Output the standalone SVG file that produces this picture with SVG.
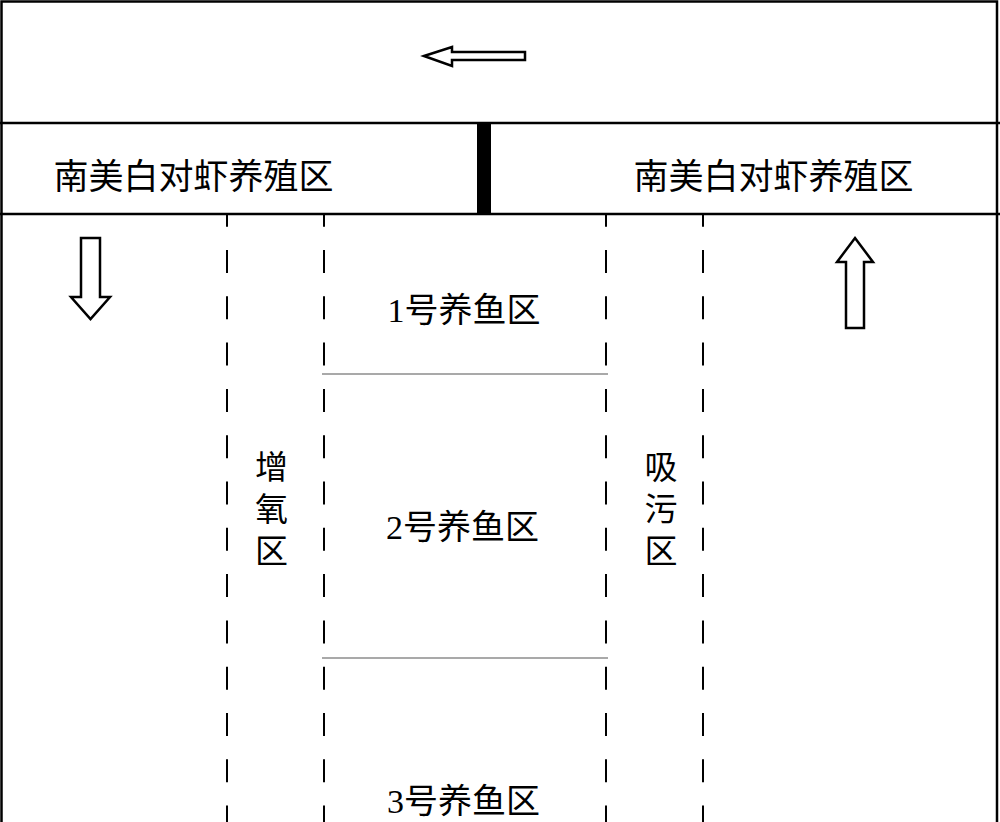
<svg xmlns="http://www.w3.org/2000/svg" width="1000" height="822" viewBox="0 0 1000 822">
<style>
.ln{stroke:#000;stroke-width:2.5;fill:none}
.dash{stroke:#000;stroke-width:2;fill:none;stroke-dasharray:23 23.3;stroke-dashoffset:11.3}
.sep{stroke:#555;stroke-width:1.2}
.arr{fill:#fff;stroke:#000;stroke-width:2.5;stroke-linejoin:miter}
.t{font-family:"Liberation Serif","Noto Sans CJK SC",serif;fill:#000;text-anchor:middle;dominant-baseline:central}
.big{font-size:35px}
.mid{font-size:34px}
.vert{font-size:33px}
</style>
<rect width="1000" height="822" fill="#fff"/>
<g id="frame">
<rect class="ln" x="1.5" y="1.5" width="995.5" height="830"/>
<line class="ln" x1="0" y1="123" x2="1000" y2="123"/>
<line class="ln" x1="0" y1="214" x2="1000" y2="214"/>
<rect x="477" y="123" width="14" height="91" fill="#000"/>
</g>
<g id="connectors">
<line class="dash" x1="227" y1="215" x2="227" y2="822"/>
<line class="dash" x1="324" y1="215" x2="324" y2="822"/>
<line class="dash" x1="606" y1="215" x2="606" y2="822"/>
<line class="dash" x1="703" y1="215" x2="703" y2="822"/>
<line class="sep" x1="322" y1="374" x2="608" y2="374"/>
<line class="sep" x1="322" y1="658" x2="608" y2="658"/>
<polygon class="arr" points="424,56 452,47 452,52 525,52 525,60 452,60 452,66"/>
<polygon class="arr" points="81,238 100,238 100,297 110,297 90.5,319 71,297 81,297"/>
<polygon class="arr" points="855,238 873,262 864,262 864,328 846,328 846,262 837,262"/>
</g>
<g id="shrimp-left"><text class="t big" x="193.5" y="177.5">南美白对虾养殖区</text></g>
<g id="shrimp-right"><text class="t big" x="773.5" y="177.5">南美白对虾养殖区</text></g>
<g id="fish-1"><text class="t mid" x="464" y="310.5">1号养鱼区</text></g>
<g id="fish-2"><text class="t mid" x="462.5" y="527.5">2号养鱼区</text></g>
<g id="fish-3"><text class="t mid" x="463.5" y="801.5">3号养鱼区</text></g>
<g id="aeration">
<text class="t vert" x="271.5" y="467.5">增</text>
<text class="t vert" x="271.5" y="509.5">氧</text>
<text class="t vert" x="271.5" y="552">区</text>
</g>
<g id="suction">
<text class="t vert" x="661" y="467.5">吸</text>
<text class="t vert" x="661" y="509.5">污</text>
<text class="t vert" x="661" y="552">区</text>
</g>
</svg>
